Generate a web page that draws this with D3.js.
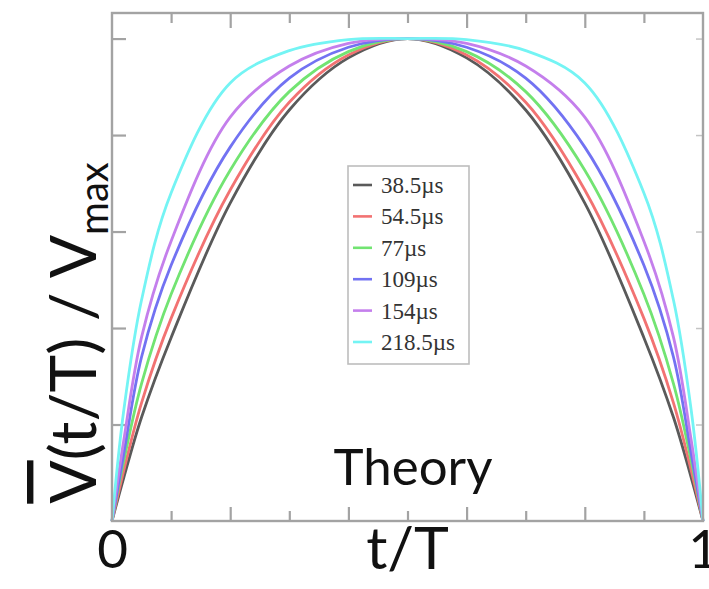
<!DOCTYPE html>
<html>
<head>
<meta charset="utf-8">
<script src="https://cdn.jsdelivr.net/npm/d3@7"></script>
<style>
  html, body { margin: 0; padding: 0; background: #fff; }
  svg { display: block; }
</style>
</head>
<body>
<svg id="chart" width="709" height="589"></svg>
<script>
// Normalised time along the pulse
const tValues = [0, 0.02, 0.05, 0.1, 0.2, 0.3, 0.4, 0.5, 0.6, 0.7, 0.8, 0.9, 0.95, 0.98, 1];

// Normalised mean value V(t/T)/Vmax for each time constant
const v38_5  = [0, 0.09, 0.215, 0.38, 0.659, 0.852, 0.96, 1, 0.96, 0.852, 0.659, 0.38, 0.215, 0.09, 0];
const v54_5  = [0, 0.105, 0.245, 0.42, 0.686, 0.868, 0.966, 1, 0.966, 0.868, 0.686, 0.42, 0.245, 0.105, 0];
const v77    = [0, 0.125, 0.285, 0.47, 0.727, 0.89, 0.973, 1, 0.973, 0.89, 0.727, 0.47, 0.285, 0.125, 0];
const v109   = [0, 0.14, 0.34, 0.53, 0.775, 0.918, 0.982, 1, 0.982, 0.918, 0.775, 0.53, 0.34, 0.14, 0];
const v154   = [0, 0.168, 0.381, 0.58, 0.837, 0.943, 0.99, 1, 0.99, 0.943, 0.837, 0.58, 0.381, 0.168, 0];
const v218_5 = [0, 0.23, 0.458, 0.68, 0.908, 0.975, 0.998, 1, 0.998, 0.975, 0.908, 0.68, 0.458, 0.23, 0];

const seriesNames  = ["38.5µs", "54.5µs", "77µs", "109µs", "154µs", "218.5µs"];
const seriesValues = [v38_5, v54_5, v77, v109, v154, v218_5];
const seriesColors = ["#5a5a5a", "#f27272", "#72e472", "#7272f2", "#c47fec", "#74f4f4"];

const majorX = [0.2, 0.4, 0.6, 0.8];
const minorX = [0.1, 0.3, 0.5, 0.7, 0.9];
const yTicks = [0.2, 0.4, 0.6, 0.8, 1.0];

const svg = d3.select("#chart");
const plotLeft = 112, plotRight = 703, plotTop = 13, plotBottom = 521;

const x = d3.scaleLinear().domain([0, 1]).range([plotLeft, plotRight]);
const y = d3.scaleLinear().domain([0, 1.053]).range([plotBottom, plotTop]);

const tickColor = "#a3a3a3";

function styleAxis(g) {
  g.select(".domain").remove();
  g.selectAll(".tick line").attr("stroke", tickColor).attr("stroke-width", 2.2);
  g.selectAll(".tick text").remove();
}

// inward ticks on all four sides
svg.append("g").attr("transform", `translate(0,${plotBottom})`)
  .call(d3.axisBottom(x).tickValues(majorX).tickSize(-14)).call(styleAxis);
svg.append("g").attr("transform", `translate(0,${plotBottom})`)
  .call(d3.axisBottom(x).tickValues(minorX).tickSize(-10)).call(styleAxis);
svg.append("g").attr("transform", `translate(0,${plotTop})`)
  .call(d3.axisTop(x).tickValues(majorX).tickSize(-15)).call(styleAxis);
svg.append("g").attr("transform", `translate(0,${plotTop})`)
  .call(d3.axisTop(x).tickValues(minorX).tickSize(-10)).call(styleAxis);
svg.append("g").attr("transform", `translate(${plotLeft},0)`)
  .call(d3.axisLeft(y).tickValues(yTicks).tickSize(-14)).call(styleAxis);
svg.append("g").attr("transform", `translate(${plotRight},0)`)
  .call(d3.axisRight(y).tickValues(yTicks).tickSize(-7)).call(g => {
    styleAxis(g);
    g.selectAll(".tick line").attr("stroke", "#c4c4c4").attr("stroke-width", 1.5);
  });

// curves
const line = d3.line()
  .x((d, i) => x(tValues[i]))
  .y(d => y(d))
  .curve(d3.curveCatmullRom.alpha(0.5));

svg.append("g").selectAll("path")
  .data(seriesValues)
  .join("path")
  .attr("d", d => line(d))
  .attr("fill", "none")
  .attr("stroke", (d, i) => seriesColors[i])
  .attr("stroke-width", 2.8);

// frame
svg.append("rect")
  .attr("x", plotLeft).attr("y", plotTop)
  .attr("width", plotRight - plotLeft).attr("height", plotBottom - plotTop)
  .attr("fill", "none").attr("stroke", tickColor).attr("stroke-width", 2.4);

// legend
const lg = svg.append("g");
lg.append("rect")
  .attr("x", 348).attr("y", 166).attr("width", 121).attr("height", 198)
  .attr("fill", "#fff").attr("stroke", "#bdbdbd").attr("stroke-width", 1.6);
const rows = lg.selectAll("g.row").data(seriesNames).join("g")
  .attr("transform", (d, i) => `translate(0,${185 + i * 31.4})`);
rows.append("line")
  .attr("x1", 353).attr("x2", 372).attr("y1", 0).attr("y2", 0)
  .attr("stroke", (d, i) => seriesColors[i]).attr("stroke-width", 2.6);
rows.append("text")
  .attr("x", 381).attr("y", 8)
  .attr("font-family", "'Liberation Serif', 'Times New Roman', serif")
  .attr("font-size", 23)
  .attr("fill", "#333")
  .text(d => d);

// annotation
svg.append("text")
  .attr("x", 413).attr("y", 485)
  .attr("text-anchor", "middle")
  .attr("font-family", "Lato, sans-serif")
  .attr("font-size", 51)
  .attr("fill", "#111")
  .text("Theory");

// x axis end labels and title
const labelFont = "Lato, sans-serif";
svg.append("g").attr("transform", `translate(0,${plotBottom})`)
  .call(d3.axisBottom(x).tickValues([0, 1]).tickFormat(d3.format("d")).tickSize(0).tickPadding(7))
  .call(g => {
    g.select(".domain").remove();
    g.selectAll(".tick text")
      .attr("font-family", labelFont).attr("font-size", 53).attr("fill", "#111")
      .attr("dy", "0.76em");
  });
svg.append("text")
  .attr("x", x(0.5)).attr("y", 569)
  .attr("text-anchor", "middle")
  .attr("font-family", labelFont).attr("font-size", 59).attr("fill", "#111")
  .text("t/T");

// y axis title with overbar on the leading V and subscript "max"
const yt = svg.append("text")
  .attr("transform", "translate(96,333) rotate(-90)")
  .attr("text-anchor", "middle")
  .attr("font-family", labelFont).attr("font-size", 64).attr("fill", "#111");
yt.append("tspan").attr("text-decoration", "overline").text("V");
yt.append("tspan").text("(t/T) / V");
yt.append("tspan").attr("font-size", 40).attr("dy", 12).text("max");
</script>
</body>
</html>
